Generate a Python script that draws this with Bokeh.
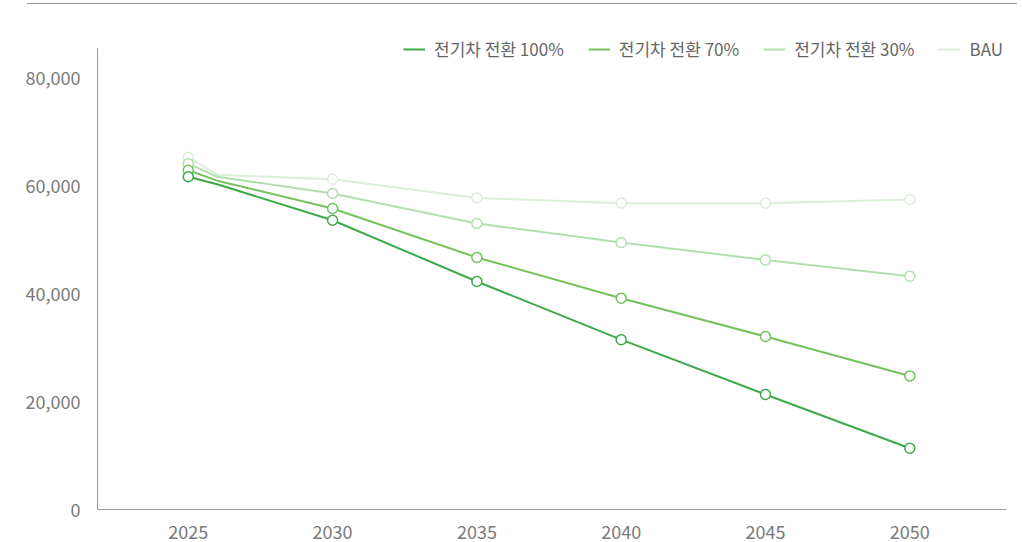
from bokeh.plotting import figure
from bokeh.models import (Legend, LegendItem, FixedTicker, NumeralTickFormatter,
                          Range1d, InlineStyleSheet)
from bokeh.embed import file_html
from bokeh.resources import INLINE

# ---- data ----
line_years = [2025, 2026, 2030, 2035, 2040, 2045, 2050]
marker_years = [2025, 2030, 2035, 2040, 2045, 2050]

ev100 = [61730, 60340, 53660, 42300, 31510, 21330, 11370]
ev70 = [62940, 61000, 55840, 46750, 39200, 32090, 24780]
ev30 = [64150, 61730, 58620, 53050, 49530, 46300, 43280]
bau = [65350, 62110, 61270, 57800, 56820, 56820, 57500]

series_names = ["전기차 전환 100%", "전기차 전환 70%", "전기차 전환 30%", "BAU"]
series_values = [ev100, ev70, ev30, bau]
series_colors = ["#3daa4a", "#74c25c", "#b3dfb0", "#dcefd9"]

y_ticks = [0, 20000, 40000, 60000, 80000]
x_ticks = [2025, 2030, 2035, 2040, 2045, 2050]

FONT = "Noto Sans CJK KR"

css = InlineStyleSheet(css="""
:host::before { content: ''; position: absolute; top: 3px; left: 27px;
  width: 990px; height: 1px; background: #9a9a9a; z-index: 10; }
""")

p = figure(width=1022, height=542, output_backend="svg", toolbar_location=None,
           x_range=Range1d(2021.855, 2053.35), y_range=Range1d(0, 88300),
           min_border_left=97, min_border_right=16, min_border_top=33,
           min_border_bottom=33, stylesheets=[css])
p.outline_line_color = None
p.xgrid.visible = False
p.ygrid.visible = False
p.background_fill_color = "white"
p.border_fill_color = "white"

for ax in (p.xaxis[0], p.yaxis[0]):
    ax.axis_line_color = "#9a9a9a"
    ax.axis_line_width = 1
    ax.major_tick_line_color = None
    ax.minor_tick_line_color = None
    ax.major_label_text_font = FONT
    ax.major_label_text_font_size = "18px"
    ax.major_label_text_color = "#7a7a7a"

p.yaxis.ticker = FixedTicker(ticks=y_ticks)
p.yaxis.formatter = NumeralTickFormatter(format="0,0")
p.yaxis.major_label_standoff = 11
p.yaxis.bounds = (0, 85520)
p.xaxis.ticker = FixedTicker(ticks=x_ticks)
p.xaxis.major_label_standoff = 9

order = list(range(len(series_names)))[::-1]
renderers = {}
for i in order:
    vals = series_values[i]
    col = series_colors[i]
    l = p.line(line_years, vals, line_color=col, line_width=2)
    mvals = [v for y, v in zip(line_years, vals) if y in marker_years]
    p.scatter(marker_years, mvals, marker="circle", size=10, fill_color="white",
              line_color=col, line_width=1.5)
    renderers[i] = l

items = [LegendItem(label=series_names[i], renderers=[renderers[i]])
         for i in range(len(series_names))]

legend = Legend(items=items, orientation="horizontal", location="top_right",
                label_text_font=FONT, label_text_font_size="17px",
                label_text_color="#666666", glyph_width=22, glyph_height=16,
                label_standoff=9, spacing=24, padding=0, margin=3,
                border_line_color=None, background_fill_alpha=0)
p.add_layout(legend, "center")

open("out.html", "w").write(file_html(p, INLINE))
